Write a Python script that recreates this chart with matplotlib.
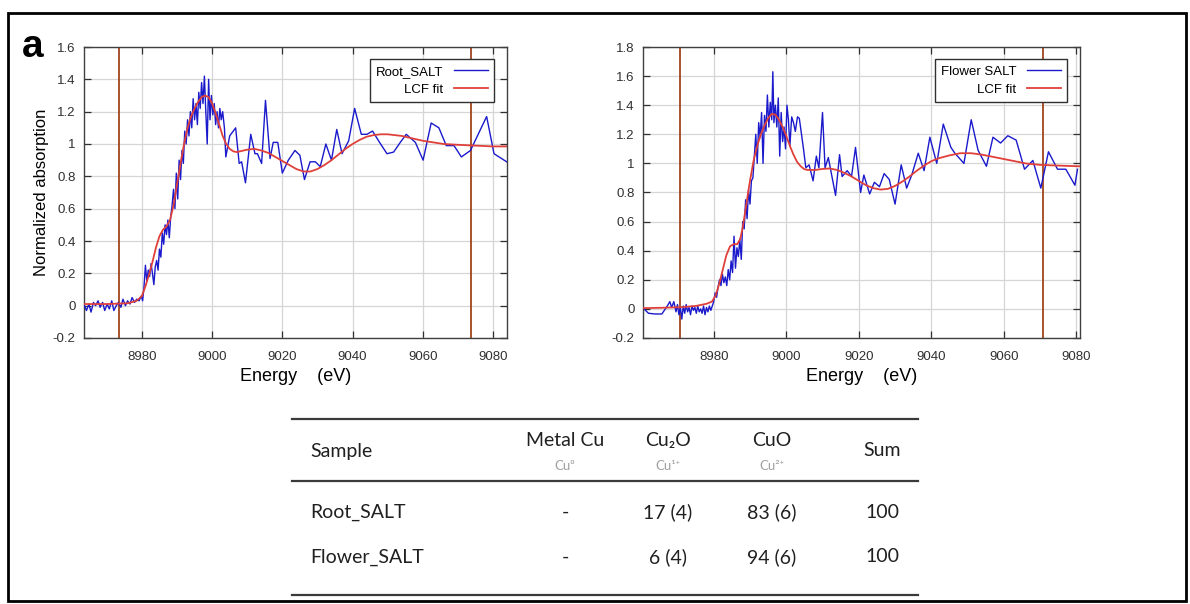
import matplotlib
matplotlib.use("Agg")
from matplotlib import pyplot as plt
from matplotlib.ticker import FuncFormatter
import numpy as np

# --- data ---
root_data = [
    (8963.6, 0.00), (8964.2, -0.03), (8964.9, 0.01), (8965.5, -0.04), (8966.2, 0.02),
    (8966.8, 0.00), (8967.5, 0.03), (8968.1, -0.01), (8968.8, 0.02), (8969.4, -0.03),
    (8970.1, 0.01), (8970.7, -0.02), (8971.4, 0.03), (8972.0, -0.03), (8972.7, 0.00),
    (8973.3, 0.02), (8974.0, -0.01), (8974.6, 0.04), (8975.3, 0.00), (8975.9, 0.03),
    (8976.6, 0.01), (8977.2, 0.05), (8977.9, 0.02), (8978.5, 0.04), (8979.2, 0.03),
    (8979.8, 0.06),
    (8980.2, 0.03), (8980.6, 0.12), (8981.0, 0.25), (8981.4, 0.15), (8981.8, 0.22),
    (8982.2, 0.18), (8982.6, 0.26), (8983.0, 0.20), (8983.4, 0.13), (8983.8, 0.24),
    (8984.2, 0.28), (8984.6, 0.22), (8985.0, 0.35), (8985.4, 0.30), (8985.8, 0.45),
    (8986.2, 0.38), (8986.6, 0.50), (8987.0, 0.44), (8987.4, 0.53), (8987.8, 0.42),
    (8988.2, 0.55), (8988.6, 0.62), (8989.0, 0.72), (8989.4, 0.60), (8989.8, 0.82),
    (8990.2, 0.66), (8990.6, 0.90), (8991.0, 0.78), (8991.4, 0.96), (8991.8, 0.88),
    (8992.2, 1.08), (8992.6, 1.00), (8993.0, 1.15), (8993.4, 1.05), (8993.8, 1.20),
    (8994.2, 1.10), (8994.6, 1.28), (8995.0, 1.15), (8995.4, 1.25), (8995.8, 1.12),
    (8996.2, 1.32), (8996.6, 1.22), (8997.0, 1.38), (8997.4, 1.25), (8997.8, 1.42),
    (8998.2, 1.20), (8998.6, 1.00), (8999.0, 1.40), (8999.4, 1.15), (8999.8, 1.30),
    (9000.2, 1.18), (9000.6, 1.25), (9001.0, 1.12), (9001.4, 1.20), (9001.8, 1.10),
    (9002.2, 1.22), (9002.6, 1.15), (9003.0, 1.20), (9003.5, 1.10),
    (9003.9, 0.92), (9005.0, 1.05), (9006.7, 1.10), (9007.7, 0.88), (9008.4, 0.89),
    (9009.5, 0.76), (9011.0, 1.06), (9012.2, 0.94), (9012.9, 0.94), (9014.1, 0.88),
    (9015.2, 1.27), (9016.5, 0.91), (9017.4, 1.01), (9018.7, 1.01), (9020.0, 0.82),
    (9021.7, 0.90), (9023.6, 0.96), (9025.0, 0.93), (9026.3, 0.78), (9027.9, 0.89),
    (9029.4, 0.89), (9030.8, 0.86), (9032.4, 1.00), (9034.0, 0.90), (9035.5, 1.09),
    (9037.0, 0.94), (9038.9, 1.02), (9040.6, 1.22), (9042.5, 1.06), (9044.1, 1.06),
    (9045.7, 1.08), (9047.7, 1.01), (9049.8, 0.94), (9051.7, 0.95), (9053.6, 1.01),
    (9055.3, 1.06), (9057.9, 1.01), (9060.1, 0.90), (9062.4, 1.13), (9064.6, 1.10),
    (9066.7, 0.99), (9068.9, 0.99), (9071.0, 0.92), (9073.6, 0.96), (9076.0, 1.07),
    (9078.2, 1.17), (9080.3, 0.94), (9083.9, 0.89),
]

root_fit = [
    (8963.5, 0.01), (8970, 0.01), (8976, 0.015), (8978.5, 0.03), (8980, 0.06),
    (8981, 0.12), (8982, 0.19), (8983, 0.27), (8984, 0.36), (8985, 0.43),
    (8986, 0.47), (8987, 0.49), (8988, 0.53), (8989, 0.62), (8990, 0.75),
    (8991, 0.88), (8992, 1.00), (8993, 1.10), (8994, 1.17), (8995, 1.22),
    (8996, 1.26), (8997, 1.29), (8998, 1.30), (8999, 1.29), (9000, 1.25),
    (9001, 1.19), (9002, 1.12), (9003, 1.05), (9004, 1.00), (9005, 0.97),
    (9006, 0.955), (9007, 0.95), (9008, 0.955), (9010, 0.965), (9012, 0.97),
    (9014, 0.96), (9016, 0.945), (9018, 0.92), (9020, 0.895), (9022, 0.87),
    (9024, 0.845), (9026, 0.83), (9028, 0.83), (9030, 0.845), (9032, 0.87),
    (9034, 0.90), (9036, 0.935), (9038, 0.97), (9040, 1.00), (9042, 1.025),
    (9044, 1.045), (9046, 1.055), (9048, 1.06), (9050, 1.06), (9052, 1.055),
    (9054, 1.05), (9056, 1.04), (9058, 1.03), (9060, 1.02), (9063, 1.01),
    (9066, 1.00), (9070, 0.995), (9075, 0.99), (9080, 0.985), (9084, 0.985),
]

flower_data = [
    (8960.8, 0.00), (8962.0, -0.03), (8963.8, -0.035), (8965.7, -0.035), (8967.2, 0.02),
    (8967.9, 0.05), (8968.4, 0.01), (8969.0, 0.05), (8969.6, -0.02),
    (8970.0, 0.03), (8970.4, -0.04), (8970.8, 0.01), (8971.2, -0.07), (8971.6, 0.02),
    (8972.0, -0.03), (8972.4, 0.03), (8972.8, -0.02), (8973.2, 0.01), (8973.6, -0.04),
    (8974.0, 0.02), (8974.4, -0.01), (8974.8, 0.01), (8975.2, -0.03), (8975.6, 0.02),
    (8976.0, -0.02), (8976.4, 0.00), (8976.8, -0.03), (8977.2, 0.02), (8977.6, -0.04),
    (8978.0, 0.01), (8978.4, -0.02), (8978.8, 0.02), (8979.2, -0.01), (8979.6, 0.02),
    (8980.0, 0.05),
    (8980.4, 0.11), (8980.8, 0.08), (8981.2, 0.15), (8981.6, 0.20), (8982.0, 0.16),
    (8982.4, 0.24), (8982.8, 0.18), (8983.2, 0.22), (8983.6, 0.16), (8984.0, 0.27),
    (8984.4, 0.20), (8984.8, 0.33), (8985.2, 0.25), (8985.6, 0.50), (8986.0, 0.28),
    (8986.4, 0.42), (8986.8, 0.36), (8987.2, 0.48), (8987.6, 0.34), (8988.0, 0.60),
    (8988.4, 0.55), (8988.8, 0.75), (8989.2, 0.62), (8989.6, 0.82), (8990.0, 0.72),
    (8990.4, 0.88), (8990.8, 0.90), (8991.2, 1.05), (8991.6, 1.20), (8992.0, 1.00),
    (8992.4, 1.28), (8992.8, 1.18), (8993.2, 1.35), (8993.6, 1.00), (8994.0, 1.33),
    (8994.4, 1.22), (8994.8, 1.47), (8995.2, 1.25), (8995.6, 1.42), (8996.0, 1.30),
    (8996.3, 1.63), (8996.6, 1.28), (8997.0, 1.40), (8997.4, 1.25), (8997.8, 1.45),
    (8998.2, 1.05), (8998.6, 1.35), (8999.0, 1.15), (8999.4, 1.25), (8999.8, 1.10),
    (9000.2, 1.40), (9000.6, 1.30), (9001.0, 1.12), (9001.5, 1.32), (9002.0, 1.28),
    (9002.5, 1.22),
    (9003.1, 1.32), (9003.6, 1.31), (9004.7, 1.11), (9005.4, 0.97), (9006.3, 0.99),
    (9007.4, 0.88), (9008.3, 1.05), (9009.0, 0.97), (9010.0, 1.35), (9010.7, 0.97),
    (9011.6, 1.04), (9013.6, 0.78), (9014.7, 1.06), (9015.4, 0.91), (9016.8, 0.95),
    (9018.0, 0.91), (9019.1, 1.11), (9020.5, 0.80), (9021.4, 0.92), (9023.0, 0.79),
    (9024.3, 0.87), (9025.7, 0.84), (9027.0, 0.93), (9028.4, 0.89), (9030.0, 0.72),
    (9031.7, 0.99), (9033.2, 0.83), (9034.6, 0.92), (9036.4, 1.07), (9038.0, 0.95),
    (9039.6, 1.18), (9041.5, 1.00), (9043.3, 1.27), (9045.4, 1.11), (9046.5, 1.07),
    (9049.0, 1.00), (9051.0, 1.30), (9052.9, 1.09), (9055.2, 0.98), (9057.0, 1.18),
    (9059.1, 1.14), (9061.1, 1.19), (9063.4, 1.16), (9065.7, 0.96), (9068.0, 1.02),
    (9070.2, 0.83), (9072.3, 1.08), (9074.8, 0.96), (9077.1, 0.96), (9079.6, 0.85),
    (9080.3, 0.96),
]

flower_fit = [
    (8960.5, 0.005), (8966, 0.008), (8971, 0.012), (8975, 0.02), (8978, 0.035),
    (8979.5, 0.05), (8980.5, 0.09), (8981.5, 0.17), (8982.5, 0.27), (8983.5, 0.37),
    (8984.5, 0.43), (8985.5, 0.445), (8986.5, 0.445), (8987.3, 0.48), (8988, 0.56),
    (8989, 0.72), (8990, 0.88), (8991, 1.02), (8992, 1.12), (8993, 1.20),
    (8994, 1.26), (8995, 1.31), (8996, 1.34), (8997, 1.335), (8998, 1.30),
    (8999, 1.25), (9000, 1.19), (9001, 1.12), (9002, 1.06), (9003, 1.01),
    (9004, 0.98), (9005, 0.96), (9006, 0.955), (9008, 0.955), (9010, 0.962),
    (9012, 0.965), (9014, 0.955), (9016, 0.935), (9018, 0.91), (9020, 0.88),
    (9022, 0.85), (9024, 0.83), (9026, 0.82), (9028, 0.825), (9030, 0.845),
    (9032, 0.875), (9034, 0.91), (9036, 0.95), (9038, 0.985), (9040, 1.015),
    (9042, 1.035), (9045, 1.055), (9048, 1.07), (9051, 1.07), (9054, 1.06),
    (9057, 1.045), (9060, 1.03), (9063, 1.015), (9066, 1.00), (9070, 0.99),
    (9075, 0.985), (9081, 0.98),
]

root_window = [8973.4, 9073.7]
flower_window = [8970.7, 9070.9]

table_cols = ["Sample", "Metal Cu", "Cu\u2082O", "CuO", "Sum"]
table_subs = ["", "Cu\u2070", "Cu\u00b9\u207a", "Cu\u00b2\u207a", ""]
table_rows = [
    ["Root_SALT", "-", "17 (4)", "83 (6)", "100"],
    ["Flower_SALT", "-", "6 (4)", "94 (6)", "100"],
]

W, H = 1190, 604
plt.rcParams['font.family'] = ['Liberation Sans', 'DejaVu Sans']
fig = plt.figure(figsize=(W / 100, H / 100), dpi=100)


def fx(px):
    return px / W


def fy(py):
    return 1 - py / H


def spectrum_panel(rect, data, fit, window, label, xlim, ylim, yticks, ylabel=None):
    ax = fig.add_axes(rect)
    e, v = zip(*data)
    fe, fv = zip(*fit)
    ax.plot(e, v, color='#1a1acc', lw=1.0, label=label, zorder=3)
    ax.plot(fe, fv, color='#e0403a', lw=1.3, label='LCF fit', zorder=4)
    for w in window:
        ax.axvline(w, color='#a0441c', lw=1.3, zorder=2)
    ax.set_xlim(*xlim)
    ax.set_ylim(*ylim)
    ax.set_xticks([8980, 9000, 9020, 9040, 9060, 9080])
    ax.set_yticks(yticks)
    ax.yaxis.set_major_formatter(FuncFormatter(lambda y, p: '%g' % round(y, 2)))
    ax.grid(True, color='#d6d6d6', lw=0.9)
    ax.set_axisbelow(True)
    ax.tick_params(direction='in', top=True, right=True, length=5, width=0.9,
                   labelsize=9.5, colors='#303030')
    ax.tick_params(axis='x', pad=9)
    ax.tick_params(axis='y', pad=6)
    for s in ax.spines.values():
        s.set_color('#404040')
        s.set_linewidth(1.0)
    ax.set_xlabel('Energy    (eV)', fontsize=13, labelpad=4)
    if ylabel:
        ax.set_ylabel(ylabel, fontsize=12, labelpad=3)
    leg = ax.legend(loc='upper right', markerfirst=False, fontsize=9.5,
                    handlelength=2.6, fancybox=False, framealpha=1,
                    edgecolor='#303030', borderpad=0.45, labelspacing=0.45,
                    bbox_to_anchor=(0.985, 0.98))
    for t in leg.get_texts():
        t.set_ha('right')
    leg.get_frame().set_linewidth(1.0)
    return ax


spectrum_panel([fx(84), fy(338), fx(507 - 84), (338 - 47) / H], root_data, root_fit,
               root_window, 'Root_SALT', (8963.5, 9084), (-0.2, 1.6),
               np.linspace(-0.2, 1.6, 10), ylabel='Normalized absorption')
spectrum_panel([fx(643), fy(338), fx(1080 - 643), (338 - 47) / H], flower_data, flower_fit,
               flower_window, 'Flower SALT', (8960.5, 9081), (-0.2, 1.8),
               np.linspace(-0.2, 1.8, 11))

# panel letter and outer frame
fig.text(fx(33), fy(47), 'a', fontsize=28, fontweight='bold', ha='center', va='center')
frame = plt.Rectangle((fx(8), fy(601)), fx(1178), (601 - 13) / H, transform=fig.transFigure,
                      fill=False, edgecolor='black', lw=2.0)
fig.add_artist(frame)

# composition table
tfont = ['Lato', 'DejaVu Sans']
for py in [419, 481, 595]:
    fig.add_artist(plt.Line2D([fx(292), fx(918)], [fy(py), fy(py)],
                              transform=fig.transFigure, color='#3a3a3a', lw=1.6))
col_x = [310, 565, 668, 772, 882]
for i, (c, s) in enumerate(zip(table_cols, table_subs)):
    if i == 0 or i == 4:
        fig.text(fx(col_x[i]), fy(451), c, fontsize=14, family=tfont,
                 ha='left' if i == 0 else 'center', va='center', color='#202020')
    else:
        fig.text(fx(col_x[i]), fy(441), c, fontsize=14, family=tfont,
                 ha='center', va='center', color='#202020')
        fig.text(fx(col_x[i]), fy(466), s, fontsize=9.5, family=tfont,
                 ha='center', va='center', color='#a0a0a0')
for r, py in zip(table_rows, [512, 557]):
    for i, val in enumerate(r):
        fig.text(fx(col_x[i]), fy(py), val, fontsize=14, family=tfont,
                 ha='left' if i == 0 else 'center', va='center', color='#202020')

fig.savefig('out.png', dpi=100)
